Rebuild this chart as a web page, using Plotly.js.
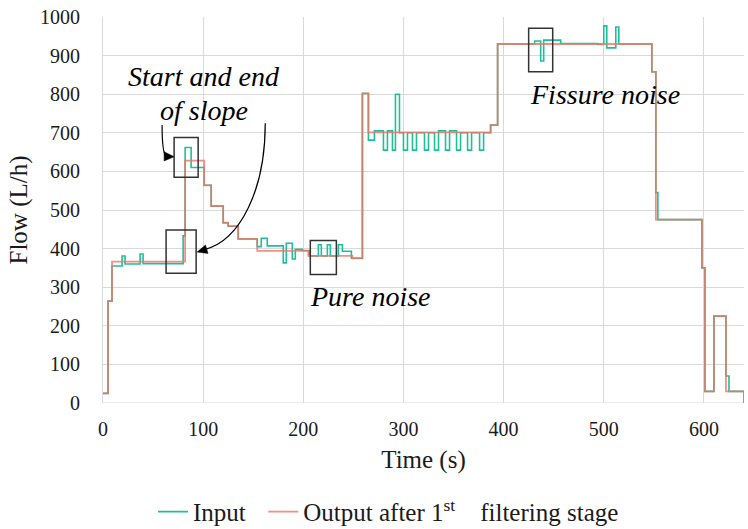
<!DOCTYPE html>
<html>
<head>
<meta charset="utf-8">
<script src="https://cdn.plot.ly/plotly-3.0.1.min.js"></script>
<style>html,body{margin:0;padding:0;background:#fff;}#chart{width:748px;height:529px;}</style>
</head>
<body>
<div id="chart"></div>
<script>
// Input signal (step changes: time in s, flow in L/h)
const inputTime = [0,5,9,19,22,37,40,80,82,88,101,108,120,125,135,154,158,164,180,183,189,192,199,206,215,218,224,227,235,239,248,259,265,271,280,284,289,292,296,300,304,309,313,321,325,331,335,342,346,353,357,364,368,376,380,387,394,431,437,440,457,494,500,503,512,515,548,552,554,598,601,610,622,625,640];
const inputFlow = [25,264,355,381,360,386,361,433,662,610,564,510,467,458,425,405,427,407,363,414,373,398,395,381,410,381,410,381,410,393,375,802,681,705,655,705,655,800,700,655,700,655,700,655,700,655,705,655,705,655,700,655,700,655,700,720,930,938,886,940,931,929,977,920,974,930,858,545,475,350,30,225,70,30,0];
// Output after 1st filtering stage
const outputTime = [0,5,9,82,101,108,120,125,135,154,205,249,259,265,387,394,548,552,598,601,610,622,640];
const outputFlow = [25,264,366,628,564,510,467,458,425,394,381,375,802,701,720,930,858,475,350,30,225,30,0];

const xTicks = [0,100,200,300,400,500,600];
const yTicks = [0,100,200,300,400,500,600,700,800,900,1000];

const serif = '"Liberation Serif", serif';

const traces = [
  {x: inputTime, y: inputFlow, type: 'scatter', mode: 'lines', name: 'Input\u00a0\u00a0',
   line: {shape: 'hv', color: '#1fbf99', width: 1.6}},
  {x: outputTime, y: outputFlow, type: 'scatter', mode: 'lines',
   name: 'Output after 1<sup>st</sup>\u00a0\u00a0\u00a0 filtering stage',
   opacity: 0.8, line: {shape: 'hv', color: '#f07464', width: 1.8}}
];

const boxLine = {color: '#333333', width: 1.5};
const layout = {
  width: 748, height: 529,
  margin: {l: 103, r: 4, t: 17, b: 126, autoexpand: false},
  paper_bgcolor: '#ffffff', plot_bgcolor: '#ffffff',
  font: {family: serif, size: 20, color: '#1a1a1a'},
  showlegend: true,
  legend: {orientation: 'h', x: 0.078, xanchor: 'left', y: -0.282, yanchor: 'middle',
           font: {family: serif, size: 25, color: '#1a1a1a'}, itemwidth: 30, tracegroupgap: 0},
  xaxis: {range: [0, 640], tickvals: xTicks, ticks: '', showgrid: true, gridcolor: '#d9d9d9', gridwidth: 1,
          zeroline: false, showline: false, ticklabelstandoff: 12,
          tickfont: {family: serif, size: 20, color: '#1a1a1a'},
          title: {text: 'Time (s)', font: {family: serif, size: 25, color: '#1a1a1a'}, standoff: 11}},
  yaxis: {range: [0, 1000], tickvals: yTicks, ticks: '', showgrid: true, gridcolor: '#d9d9d9', gridwidth: 1,
          zeroline: false, showline: true, linecolor: '#d9d9d9', ticklabelstandoff: 18,
          tickfont: {family: serif, size: 20, color: '#1a1a1a'},
          title: {text: 'Flow (L/h)', font: {family: serif, size: 25, color: '#1a1a1a'}, standoff: 5}},
  shapes: [
    {type: 'line', xref: 'x', yref: 'y', x0: 0, x1: 640, y0: 0, y1: 0, line: {color: '#d9d9d9', width: 1}, layer: 'below'},
    {type: 'rect', xref: 'x', yref: 'y', x0: 71, x1: 95, y0: 585, y1: 688, line: boxLine},
    {type: 'rect', xref: 'x', yref: 'y', x0: 63, x1: 93, y0: 336, y1: 448, line: boxLine},
    {type: 'rect', xref: 'x', yref: 'y', x0: 207, x1: 233, y0: 333, y1: 421, line: boxLine},
    {type: 'rect', xref: 'x', yref: 'y', x0: 425, x1: 449, y0: 858, y1: 971, line: boxLine},
    {type: 'path', xref: 'x', yref: 'y', path: 'M 59 720 C 59 668, 60 645, 63 640', line: {color: '#000', width: 1.2}},
    {type: 'path', xref: 'x', yref: 'y', path: 'M 71 638 L 61 651 L 61 627 Z', fillcolor: '#000', line: {color: '#000', width: 0.5}},
    {type: 'path', xref: 'x', yref: 'y', path: 'M 162 725 C 162 552, 137 422, 102 398', line: {color: '#000', width: 1.2}},
    {type: 'path', xref: 'x', yref: 'y', path: 'M 94 391 L 104.9 387.5 L 102.3 409.5 Z', fillcolor: '#000', line: {color: '#000', width: 0.5}}
  ],
  annotations: [
    {x: 101, y: 847, xref: 'x', yref: 'y', text: '<i>Start and end</i>', showarrow: false,
     font: {family: serif, size: 28, color: '#000'}},
    {x: 101, y: 759, xref: 'x', yref: 'y', text: '<i>of slope</i>', showarrow: false,
     font: {family: serif, size: 28, color: '#000'}},
    {x: 267, y: 277, xref: 'x', yref: 'y', text: '<i>Pure noise</i>', showarrow: false,
     font: {family: serif, size: 28, color: '#000'}},
    {x: 501, y: 798, xref: 'x', yref: 'y', text: '<i>Fissure noise</i>', showarrow: false,
     font: {family: serif, size: 28, color: '#000'}}
  ]
};

Plotly.newPlot('chart', traces, layout, {displayModeBar: false, staticPlot: true});
</script>
</body>
</html>
